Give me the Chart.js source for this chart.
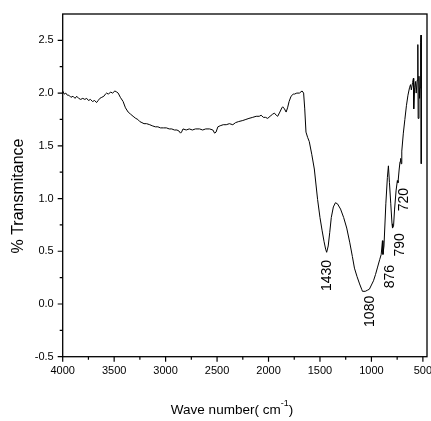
<!DOCTYPE html>
<html><head><meta charset="utf-8">
<script src="https://cdn.jsdelivr.net/npm/chart.js@4/dist/chart.umd.min.js"></script>
<style>html,body{margin:0;padding:0;background:#fff;}#wrap{width:431px;height:421px;}</style>
</head><body><div id="wrap"><canvas id="c" width="431" height="421"></canvas></div>
<script>
const wavenumber = [4000,3985,3970,3955,3940,3920,3900,3880,3864,3845,3825,3805,3785,3767,3750,3730,3710,3690,3671,3655,3639,3620,3600,3585,3574,3555,3535,3515,3493,3475,3461,3440,3413,3390,3364,3340,3316,3290,3270,3251,3230,3210,3185,3154,3130,3100,3075,3050,3020,2992,2965,2940,2915,2890,2870,2855,2845,2831,2800,2770,2740,2710,2670,2640,2610,2573,2541,2524,2510,2492,2470,2440,2411,2380,2347,2320,2290,2250,2220,2190,2153,2120,2090,2072,2050,2030,2008,1985,1960,1943,1925,1911,1890,1870,1862,1845,1829,1815,1800,1781,1760,1749,1725,1700,1674,1659,1648,1636,1620,1604,1580,1555,1523,1500,1480,1460,1445,1435,1420,1405,1390,1370,1350,1330,1300,1270,1240,1210,1185,1165,1140,1115,1095,1087,1060,1040,1020,1000,980,960,940,920,905,893,888,878,860,845,835,825,812,800,795,785,775,760,748,742,730,722,716,712,705,690,675,660,645,630,620,612,600,592,589,580,572,565,556,549,546,538,532,528,521,518,516];
const transmittance = [2.02,1.99,2.00,1.98,1.98,1.96,1.97,1.95,1.97,1.95,1.94,1.95,1.94,1.95,1.93,1.94,1.92,1.93,1.91,1.93,1.95,1.96,1.97,1.99,2.00,1.99,2.01,2.00,2.02,2.01,2.00,1.96,1.92,1.86,1.82,1.80,1.78,1.76,1.75,1.73,1.72,1.71,1.71,1.70,1.69,1.68,1.68,1.67,1.67,1.67,1.66,1.66,1.65,1.65,1.64,1.62,1.63,1.66,1.65,1.66,1.65,1.66,1.66,1.65,1.66,1.66,1.65,1.62,1.63,1.68,1.69,1.70,1.70,1.71,1.70,1.72,1.73,1.74,1.75,1.76,1.77,1.78,1.78,1.79,1.77,1.77,1.76,1.78,1.80,1.81,1.79,1.78,1.82,1.86,1.87,1.85,1.82,1.86,1.92,1.97,1.99,1.99,2.00,2.00,2.02,2.00,1.85,1.63,1.58,1.54,1.42,1.28,0.99,0.82,0.70,0.59,0.52,0.49,0.55,0.68,0.82,0.92,0.96,0.95,0.90,0.82,0.72,0.58,0.45,0.34,0.26,0.19,0.14,0.12,0.12,0.13,0.14,0.18,0.22,0.28,0.35,0.42,0.47,0.60,0.47,0.55,0.95,1.20,1.31,1.15,0.95,0.76,0.72,0.74,0.90,1.08,1.17,1.15,1.28,1.35,1.38,1.33,1.45,1.62,1.75,1.88,1.98,2.05,2.08,2.03,2.10,2.14,1.85,2.05,2.11,2.00,2.12,2.46,1.76,2.16,1.95,2.05,2.48,2.55,1.33];
const xTickValues = [4000,3500,3000,2500,2000,1500,1000,500];
const xMinorValues = [3750,3250,2750,2250,1750,1250,750];
const yTickValues = [-0.5,0,0.5,1,1.5,2,2.5];
const yMinorValues = [-0.25,0.25,0.75,1.25,1.75,2.25];
const peakLabels = ['1430','1080','876','790','720'];
const peakLabelX = [1434,1013,819,722,683];
const peakLabelY = [0.27,-0.07,0.26,0.56,0.99];
const xTitle = 'Wave number( cm';
const xTitleSup = '-1';
const yTitle = '% Transmitance';

const FONT = '"Liberation Sans", Arial, sans-serif';

const decor = {
  id: 'decor',
  afterDraw(chart) {
    const {ctx, chartArea: a, scales: {x, y}} = chart;
    ctx.save();
    ctx.strokeStyle = '#000';
    ctx.lineWidth = 1.3;
    ctx.strokeRect(a.left, a.top, a.right - a.left, a.bottom - a.top);
    ctx.lineWidth = 1.2;
    ctx.beginPath();
    xTickValues.forEach(v => { const p = x.getPixelForValue(v); ctx.moveTo(p, a.bottom); ctx.lineTo(p, a.bottom + 5); });
    xMinorValues.forEach(v => { const p = x.getPixelForValue(v); ctx.moveTo(p, a.bottom); ctx.lineTo(p, a.bottom + 3); });
    yTickValues.forEach(v => { const p = y.getPixelForValue(v); ctx.moveTo(a.left, p); ctx.lineTo(a.left - 5, p); });
    yMinorValues.forEach(v => { const p = y.getPixelForValue(v); ctx.moveTo(a.left, p); ctx.lineTo(a.left - 3, p); });
    ctx.stroke();

    ctx.fillStyle = '#000';
    ctx.font = '14px ' + FONT;
    ctx.textAlign = 'center';
    ctx.textBaseline = 'middle';
    peakLabels.forEach((t, i) => {
      ctx.save();
      ctx.translate(x.getPixelForValue(peakLabelX[i]), y.getPixelForValue(peakLabelY[i]));
      ctx.rotate(-Math.PI / 2);
      ctx.fillText(t, 0, 0);
      ctx.restore();
    });
    ctx.save();
    ctx.font = '16px ' + FONT;
    ctx.translate(19, 196);
    ctx.rotate(-Math.PI / 2);
    ctx.fillText(yTitle, 0, 0);
    ctx.restore();
    const big = '13.5px ' + FONT, small = '9px ' + FONT;
    ctx.font = big;
    const w1 = ctx.measureText(xTitle).width;
    ctx.font = small;
    const w2 = ctx.measureText(xTitleSup).width;
    ctx.font = big;
    const w3 = ctx.measureText(')').width;
    const sx = 232 - (w1 + w2 + w3) / 2;
    ctx.textAlign = 'left';
    ctx.fillText(xTitle, sx, 410);
    ctx.font = small;
    ctx.fillText(xTitleSup, sx + w1, 404);
    ctx.font = big;
    ctx.fillText(')', sx + w1 + w2, 410);
    ctx.restore();
  }
};

const gridOpts = {display: true, drawOnChartArea: false, drawTicks: false, color: 'rgba(0,0,0,0)'};
new Chart(document.getElementById('c').getContext('2d'), {
  type: 'scatter',
  data: {datasets: [{
    data: wavenumber.map((w, i) => ({x: w, y: transmittance[i]})),
    showLine: true, borderColor: '#000', borderWidth: 1, pointRadius: 0, tension: 0, fill: false
  }]},
  options: {
    responsive: false, animation: false, events: [],
    plugins: {legend: {display: false}, tooltip: {enabled: false}},
    layout: {padding: {left: 0, right: 4, top: 14, bottom: 0}},
    scales: {
      x: {
        type: 'linear', reverse: true, min: 460, max: 4000,
        afterBuildTicks: s => { s.ticks = xTickValues.map(v => ({value: v})); },
        afterFit: s => { s.height = 64.3; s.paddingLeft = 0; s.paddingRight = 0; },
        grid: gridOpts, border: {display: false},
        ticks: {color: '#000', font: {family: FONT, size: 11}, padding: 8, maxRotation: 0, autoSkip: false,
                callback: v => String(v)}
      },
      y: {
        type: 'linear', min: -0.5, max: 2.75,
        afterBuildTicks: s => { s.ticks = yTickValues.map(v => ({value: v})); },
        afterFit: s => { s.width = 62.7; s.paddingTop = 0; s.paddingBottom = 0; },
        grid: gridOpts, border: {display: false},
        ticks: {color: '#000', font: {family: FONT, size: 11}, padding: 9, autoSkip: false,
                callback: v => v.toFixed(1)}
      }
    }
  },
  plugins: [decor]
});
</script></body></html>
